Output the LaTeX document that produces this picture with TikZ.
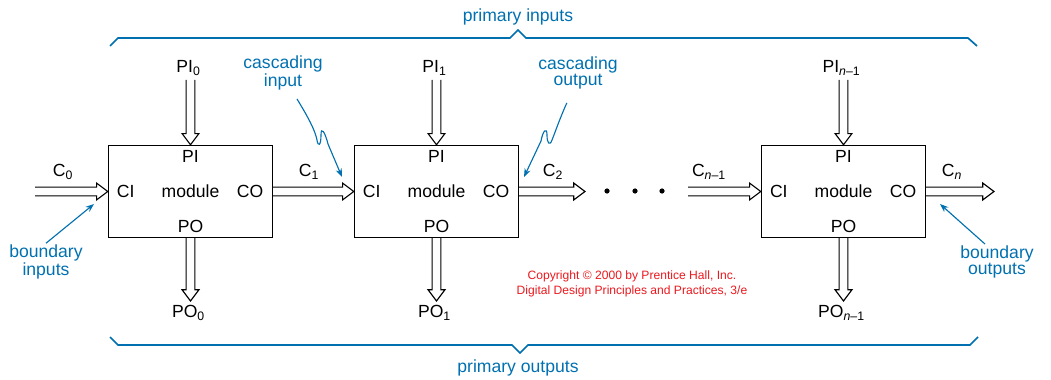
\documentclass[tikz,border=0pt]{standalone}
\usepackage{fontspec}
\setmainfont{Liberation Sans}
\usetikzlibrary{calc,arrows.meta}

\definecolor{noteblue}{RGB}{0,112,176}
\definecolor{copyred}{RGB}{235,25,30}

% bus arrow sizes
\newcommand{\bshaft}{0.11cm}
\newcommand{\bflange}{0.21cm}
\newcommand{\bhead}{0.28cm}

\tikzset{
  module/.style={draw, line width=1pt, minimum width=4.1cm, minimum height=2.3cm},
  bus/.style={line width=0.8pt, line join=miter, to path={
      ($(\tikztostart)!\bshaft!90:(\tikztotarget)$)
      -- ($(\tikztotarget)!\bhead!(\tikztostart)!\bshaft!90:(\tikztotarget)$)
      -- ($(\tikztotarget)!\bhead!(\tikztostart)!\bflange!90:(\tikztotarget)$)
      -- (\tikztotarget)
      -- ($(\tikztotarget)!\bhead!(\tikztostart)!\bflange!-90:(\tikztotarget)$)
      -- ($(\tikztotarget)!\bhead!(\tikztostart)!\bshaft!-90:(\tikztotarget)$)
      -- ($(\tikztostart)!\bshaft!-90:(\tikztotarget)$)}},
  note/.style={text=noteblue, align=center},
  pointer/.style={draw=noteblue, line width=0.8pt, -{Stealth[length=6pt,width=4.5pt]}},
  brace/.style={draw=noteblue, line width=1.2pt, line join=miter},
}

\begin{document}
\begin{tikzpicture}[x=0.025cm, y=-0.025cm,
    every node/.style={font=\fontsize{12.5}{11.5}\selectfont, inner sep=1pt}]
  \useasboundingbox (0,0) rectangle (1051,380);

  % the three modules
  \foreach \i/\x/\s in {0/190.5/0, 1/436.5/1, 2/843.5/{\textit{n}--1}} {
    \node[module] (m\i) at (\x,191.5) {module};
    \node (mpi\i) at ([yshift=-0.3cm]m\i.north) {PI};
    \node (mpo\i) at ([yshift=0.3cm]m\i.south) {PO};
    \node (mci\i) at ([xshift=0.45cm]m\i.west) {CI};
    \node (mco\i) at ([xshift=-0.58cm]m\i.east) {CO};

    % primary input and output of each module
    \coordinate (in\i) at (\x,80);
    \coordinate (out\i) at (\x,301);
    \draw[bus] (in\i) to (m\i.north);
    \draw[bus] (m\i.south) to (out\i);
    \node (pin\i) at (\x-2,68) {PI\textsubscript{\s}};
    \node (pon\i) at (\x-2,313) {PO\textsubscript{\s}};
  }

  % cascade chain
  \coordinate (cfirst) at (35,191.5);
  \coordinate (c2end) at (585,191.5);
  \coordinate (cnstart) at (688,191.5);
  \coordinate (clast) at (994,191.5);
  \draw[bus] (cfirst) to (m0.west);
  \draw[bus] (m0.east) to (m1.west);
  \draw[bus] (m1.east) to (c2end);
  \draw[bus] (cnstart) to (m2.west);
  \draw[bus] (m2.east) to (clast);

  \node (c0) at (63,172) {C\textsubscript{0}};
  \node (c1) at (309,172) {C\textsubscript{1}};
  \node (c2) at (553,172) {C\textsubscript{2}};
  \node (cn1) at (709,172) {C\textsubscript{\textit{n}--1}};
  \node (cn) at (952,172) {C\textsubscript{\textit{n}}};

  \foreach \d in {607,635,662}
    \fill (\d,191) circle (0.065cm);

  % primary inputs / outputs braces
  \draw[brace] (110,46) -- (118,38) -- (510,38) -- (518,30) -- (526,38)
    -- (968,38) -- (977,46);
  \node[note] (pins) at (518,17) {primary inputs};
  \draw[brace] (110,337) -- (118,345) -- (512,345) -- (520,353) -- (528,345)
    -- (970,345) -- (978,337);
  \node[note] (pouts) at (518,368) {primary outputs};

  % annotations
  \node[note] (casin) at (283,73) {cascading\\input};
  \coordinate (casintip) at (342,177);
  \draw[pointer] ([xshift=0.35cm,yshift=-0.18cm]casin.south)
    .. controls (308,117) and (315,130) .. (317,140)
    .. controls (318,147) and (321,146) .. (321,135)
    .. controls (321,126) and (325,132) .. (328,144) -- (casintip);

  \node[note] (casout) at (578,73) {cascading\\output};
  \coordinate (casouttip) at (524,177);
  \draw[pointer] ([xshift=-0.28cm,yshift=-0.3cm]casout.south)
    .. controls (560,118) and (556,130) .. (552,140)
    .. controls (550,146) and (547,144) .. (547,135)
    .. controls (547,127) and (543,130) .. (541,141) -- (casouttip);

  \node[note] (bin) at (46,262) {boundary\\inputs};
  \coordinate (bintip) at (94,204);
  \draw[pointer] (bin.north) -- (bintip);

  \node[note] (bout) at (997,262) {boundary\\outputs};
  \coordinate (bouttip) at (940,204);
  \draw[pointer] ([xshift=-0.3cm]bout.north) -- (bouttip);

  \node[text=copyred, align=center, font=\fontsize{8.6}{10.6}\selectfont] (copy)
    at (632,284) {Copyright \textcopyright{} 2000 by Prentice Hall, Inc.\\
    Digital Design Principles and Practices, 3/e};
\end{tikzpicture}
\end{document}
